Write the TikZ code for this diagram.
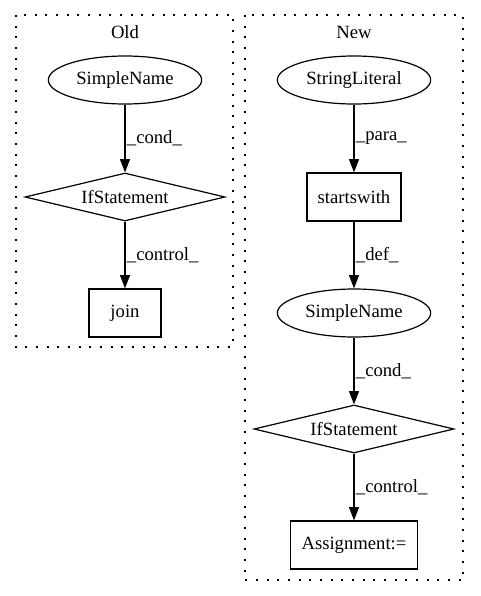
\documentclass[tikz,border=0pt]{standalone}
\usepackage{fontspec}
\setmainfont{Liberation Serif}
\usetikzlibrary{shapes.geometric,arrows.meta}

\begin{document}
\begin{tikzpicture}[x=0.75pt, y=-0.75pt,
    every node/.style={font=\fontsize{14}{16}\selectfont},
    ellnode/.style={ellipse, draw, line width=0.9pt, minimum width=115pt, minimum height=36pt, inner sep=0pt},
    boxnode/.style={rectangle, draw, line width=0.9pt, minimum width=54pt, minimum height=36pt, inner xsep=8pt},
    ifnode/.style={diamond, draw, line width=0.9pt, aspect=4, minimum width=150pt, minimum height=36pt, inner sep=0pt},
    cluster/.style={draw, line width=0.9pt, dash pattern=on 1.5pt off 6.5pt},
    flow/.style={draw, line width=0.9pt, -{Triangle[length=10pt,width=7.5pt]}},
    elabel/.style={anchor=west, inner sep=1pt}]
    \useasboundingbox (0,0) rectangle (480,596);
    \draw[cluster] (16,15) rectangle (233,347);
    \draw[cluster] (245,15) rectangle (463,580);
    \node (oldlabel) at (125,32) {Old};
    \node (newlabel) at (354,32) {New};
    \node [ellnode] (oldname) at (125,80) {SimpleName};
    \node [ifnode] (oldif) at (125,197) {IfStatement};
    \node [boxnode] (oldjoin) at (125,313) {join};
    \node [ellnode] (newlit) at (354,80) {StringLiteral};
    \node [boxnode] (newcall) at (354,197) {startswith};
    \node [ellnode] (newname) at (354,313) {SimpleName};
    \node [ifnode] (newif) at (354,429) {IfStatement};
    \node [boxnode] (newassign) at (354,545) {Assignment:=};
    \draw[flow] (oldname) -- node[elabel] {\_cond\_} (oldif);
    \draw[flow] (oldif) -- node[elabel] {\_control\_} (oldjoin);
    \draw[flow] (newlit) -- node[elabel] {\_para\_} (newcall);
    \draw[flow] (newcall) -- node[elabel] {\_def\_} (newname);
    \draw[flow] (newname) -- node[elabel] {\_cond\_} (newif);
    \draw[flow] (newif) -- node[elabel] {\_control\_} (newassign);
\end{tikzpicture}
\end{document}
